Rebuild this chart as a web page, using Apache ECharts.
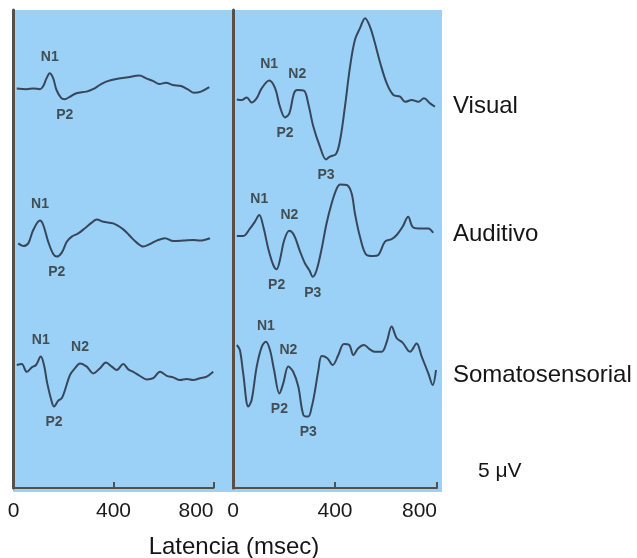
<!DOCTYPE html>
<html>
<head>
<meta charset="utf-8">
<script src="https://cdn.jsdelivr.net/npm/echarts@6/dist/echarts.min.js"></script>
<style>
html,body{margin:0;padding:0;background:#ffffff;}
#chart{width:637px;height:558px;}
</style>
</head>
<body>
<div id="chart"></div>
<script>
// ---------------- DATA ----------------
const xTicks = [0, 400, 800];
const modalities = ['Visual', 'Auditivo', 'Somatosensorial'];
const xTitle = 'Latencia (msec)';
const scaleLabel = '5 \u03bcV';

// Left panel traces (latency ms, amplitude uV; negative = up)
const leftVisualMs = [13,53,79,106,119,132,145,159,172,192,205,225,252,292,318,345,371,411,451,504,531,557,584,610,637,670,696,723,750,783];
const leftVisualUv = [0.1,0.3,0.1,0.3,-0.5,-2.4,-3.7,-2.4,0.5,2.6,2.8,2.2,1.3,0.9,0.3,-0.75,-1.6,-2.25,-2.6,-3.1,-2.4,-1.8,-1,-1.3,-0.75,-0.5,0.3,1.2,0.9,-0.2];
const leftVisualPeaks = [['N1',145],['P2',205]];

const leftAuditoryMs = [19,39,59,79,106,119,139,159,173,193,213,233,259,286,313,333,359,399,439,466,493,519,546,573,606,639,679,719,746,786];
const leftAuditoryUv = [0.1,0.75,0.1,-3.25,-5.6,-4.5,-0.3,2.75,3.4,2.4,-0.3,-1.6,-2.4,-3.7,-5.1,-5.9,-5.3,-4.9,-3.4,-1.75,-0.1,0.9,0.25,-0.6,-1.2,-0.5,-0.6,-0.75,-0.6,-1.2];
const leftAuditoryPeaks = [['N1',106],['P2',173]];

const leftSomatoMs = [13,33,53,73,90,109,122,135,153,162,179,193,206,226,246,266,293,319,346,370,393,413,439,459,479,506,533,559,586,613,639,666,693,719,746,773,799];
const leftSomatoUv = [0,-0.25,1.7,0.6,0,-2.1,0,4.6,9.2,10.4,8.9,8.3,6.25,2.5,0.8,-0.4,0.4,2.1,0.8,-0.6,0.4,1.25,-0.25,1.1,1.7,2.75,3.6,3.3,1.7,2.7,3.1,3.75,3.5,3.75,3.3,2.9,1.7];
const leftSomatoPeaks = [['N1',109],['N2',266],['P2',162]];

// Right panel traces
const rightVisualMs = [15,34,54,73,93,113,142,165,184,204,221,239,252,278,295,315,341,365,380,404,420,439,459,478,498,518,537,557,576,603,629,655,675,701,727,749,773,792];
const rightVisualUv = [0.1,0.25,-0.4,0.9,-0.2,-2.7,-4.6,-2.7,1.9,4.6,3.6,-1.4,-2.25,-2.1,1.1,6.9,11.9,15.1,14.4,13.75,10.25,1.9,-8.1,-14.75,-17.7,-20.2,-18.1,-13.9,-9.3,-3.9,-1,-0.6,0.7,0.25,0.7,-0.2,1.1,1.9];
const rightVisualPeaks = [['N1',142],['N2',252],['P2',204],['P3',365]];

const rightAuditoryMs = [15,40,67,86,103,119,138,158,171,184,201,221,239,263,282,299,313,328,348,367,387,407,420,446,465,478,498,524,550,570,596,622,642,665,687,704,727,749,766,785];
const rightAuditoryUv = [0,0,-1.9,-3.6,-5.25,-2.3,3.1,7.25,8.3,6,1,-1.3,-0.25,3.9,6.8,8.5,10.2,8.5,3.1,-3.2,-8.2,-11.9,-12.9,-12.75,-10.7,-5.7,0.2,4.75,5,4.75,1.4,0.8,-0.25,-2.3,-4.8,-2.3,-1.9,-1.9,-1.9,-0.8];
const rightAuditoryPeaks = [['N1',103],['N2',221],['P2',171],['P3',313]];

const rightSomatoMs = [15,27,40,60,73,93,113,129,145,161,182,197,217,236,256,276,295,309,322,335,348,370,391,413,435,456,472,491,514,537,557,583,603,622,642,665,694,720,740,766,783,796];
const rightSomatoUv = [0,1.25,7.1,15.4,13.75,5.4,0.4,-0.8,1.25,6.25,12.1,9.6,5.4,6.7,10.4,17.5,17.9,15.4,11.25,6.25,2.75,3.3,5,2.5,-0.25,0,2.5,0.8,0,1.1,1.7,1.7,-0.8,-4.6,-1.7,-0.6,1.7,-0.4,2.9,7.1,10,6.25];
const rightSomatoPeaks = [['N1',129],['N2',217],['P2',182],['P3',295]];

// ---------------- LAYOUT / STYLE ----------------
const BG = '#9bd1f6';
const AXIS = '#575049';
const WAVE = '#37465a';
const TEXT = '#151515';
const FONT = '"Liberation Sans", Arial, sans-serif';

const panels = [
  { left: 13.5, width: 200 },
  { left: 233, width: 204 }
];
const panelTop = 10, panelBottomY = 488;
const baselines = [[88, 243, 365], [99, 236, 345]];
const pxPerUv = 4, halfRange = 25;

const traces = [
  { p: 0, r: 0, ms: leftVisualMs, uv: leftVisualUv, peaks: leftVisualPeaks },
  { p: 0, r: 1, ms: leftAuditoryMs, uv: leftAuditoryUv, peaks: leftAuditoryPeaks },
  { p: 0, r: 2, ms: leftSomatoMs, uv: leftSomatoUv, peaks: leftSomatoPeaks },
  { p: 1, r: 0, ms: rightVisualMs, uv: rightVisualUv, peaks: rightVisualPeaks },
  { p: 1, r: 1, ms: rightAuditoryMs, uv: rightAuditoryUv, peaks: rightAuditoryPeaks },
  { p: 1, r: 2, ms: rightSomatoMs, uv: rightSomatoUv, peaks: rightSomatoPeaks }
];

const grid = [], xAxis = [], yAxis = [], series = [];

// background grid (index 0)
grid.push({ left: 13, top: 10, width: 429, height: 482, show: true, backgroundColor: BG, borderWidth: 0, outerBoundsMode: 'none' });
xAxis.push({ gridIndex: 0, type: 'value', show: false, min: 0, max: 1 });
yAxis.push({ gridIndex: 0, type: 'value', show: false, min: 0, max: 1 });

// panel axis grids (index 1, 2)
panels.forEach((pn, i) => {
  grid.push({ left: pn.left, width: pn.width, top: panelTop, height: panelBottomY - panelTop, show: false, outerBoundsMode: 'none' });
  xAxis.push({
    gridIndex: 1 + i, type: 'value', min: xTicks[0], max: xTicks[xTicks.length - 1],
    interval: xTicks[1] - xTicks[0],
    axisLine: { show: true, onZero: false, lineStyle: { color: AXIS, width: 2 } },
    axisTick: { show: true, inside: true, length: 6, lineStyle: { color: AXIS, width: 2 } },
    axisLabel: { show: true, margin: 13, fontSize: 21, color: '#1a1a1a', fontFamily: FONT,
                 alignMaxLabel: 'right' },
    splitLine: { show: false }
  });
  yAxis.push({
    gridIndex: 1 + i, type: 'value', min: 0, max: 1,
    axisLine: { show: true, onZero: false, lineStyle: { color: AXIS, width: 3 } },
    axisTick: { show: false }, axisLabel: { show: false }, splitLine: { show: false }
  });
});

// trace grids
traces.forEach((t, k) => {
  const gi = 3 + k;
  const pn = panels[t.p];
  const base = baselines[t.p][t.r];
  grid.push({ left: pn.left, width: pn.width, top: base - halfRange * pxPerUv, height: 2 * halfRange * pxPerUv, show: false, outerBoundsMode: 'none' });
  xAxis.push({ gridIndex: gi, type: 'value', show: false, min: xTicks[0], max: xTicks[xTicks.length - 1] });
  yAxis.push({ gridIndex: gi, type: 'value', show: false, min: -halfRange, max: halfRange, inverse: true });

  const data = t.ms.map((m, i) => [m, t.uv[i]]);
  series.push({
    type: 'line', xAxisIndex: gi, yAxisIndex: gi, data: data,
    showSymbol: false, smooth: 0.35, clip: false, silent: true,
    lineStyle: { color: WAVE, width: 2 }
  });

  // peak labels: find extremum near the given latency
  const labelData = t.peaks.map(([name, lat]) => {
    const isNeg = name[0] === 'N';
    let best = -1;
    t.ms.forEach((m, i) => {
      if (Math.abs(m - lat) <= 25) {
        if (best < 0 || (isNeg ? t.uv[i] < t.uv[best] : t.uv[i] > t.uv[best])) best = i;
      }
    });
    return {
      value: [t.ms[best], t.uv[best]], name: name,
      label: { position: isNeg ? 'top' : 'bottom' }
    };
  });
  series.push({
    type: 'scatter', xAxisIndex: gi, yAxisIndex: gi, data: labelData,
    symbolSize: 2, itemStyle: { color: 'rgba(0,0,0,0)' }, silent: true, clip: false,
    label: { show: true, formatter: p => p.name, distance: 8,
             fontSize: 14, fontWeight: 'bold', color: '#2c2c2c', fontFamily: FONT }
  });
});

const textEl = (txt, x, y, size, align) => ({
  type: 'text', x: x, y: y, silent: true,
  style: { text: txt, font: size + 'px ' + FONT, fill: TEXT,
           align: align || 'left', verticalAlign: 'middle',
           textAlign: align || 'left', textVerticalAlign: 'middle' }
});

const rowLabelY = [106, 234, 375];
const graphic = modalities.map((m, i) => textEl(m, 453, rowLabelY[i], 24));
graphic.push(textEl(scaleLabel, 478, 471, 21));
graphic.push(textEl(xTitle, 234, 547, 24, 'center'));

const chart = echarts.init(document.getElementById('chart'), null, { renderer: 'canvas' });
chart.setOption({
  animation: false,
  backgroundColor: '#ffffff',
  grid, xAxis, yAxis, series, graphic
});
</script>
</body>
</html>
